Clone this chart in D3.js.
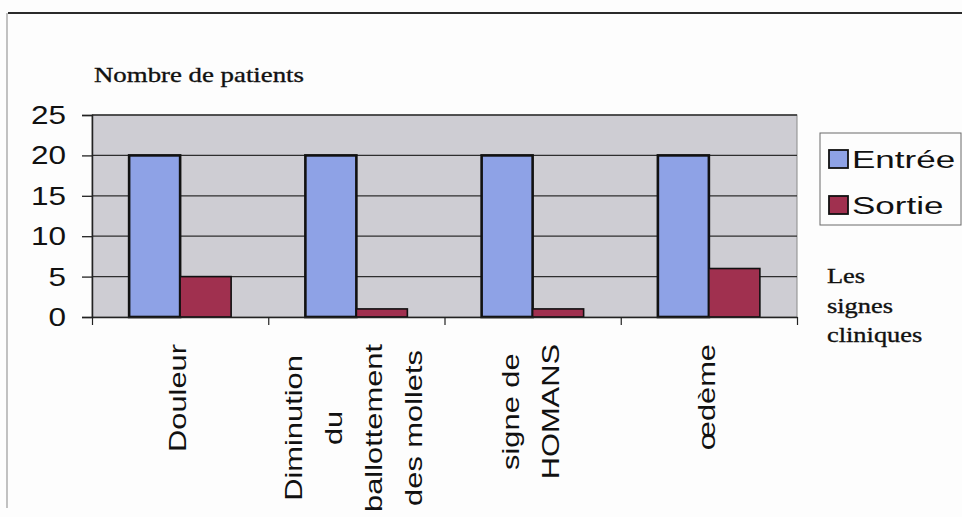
<!DOCTYPE html>
<html>
<head>
<meta charset="utf-8">
<script src="https://cdn.jsdelivr.net/npm/d3@7"></script>
<style>
  html, body { margin: 0; padding: 0; background: #fdfdfd; }
  svg { display: block; }
</style>
</head>
<body>
<svg id="chart" width="962" height="517"></svg>
<script>
// ---- data ----
const categories = ["Douleur", "Diminution du ballottement des mollets", "signe de HOMANS", "œdème"];
const categoryLines = [["Douleur"], ["Diminution", "du", "ballottement", "des mollets"], ["signe de", "HOMANS"], ["œdème"]];
const seriesNames = ["Entrée", "Sortie"];
const entree = [20, 20, 20, 20];
const sortie = [5, 1, 1, 6];
const yTicks = [0, 5, 10, 15, 20, 25];
const yTitle = "Nombre de patients";
const xTitleLines = ["Les", "signes", "cliniques"];
const colors = ["#8ea2e6", "#a0304f"];

// ---- layout ----
const svg = d3.select("#chart");
const plot = { left: 92, right: 797, top: 115, bottom: 317 };

// outer frame lines
svg.append("line").attr("x1", 8).attr("x2", 962).attr("y1", 13).attr("y2", 13)
  .attr("stroke", "#2a2a2a").attr("stroke-width", 2);
svg.append("line").attr("x1", 7).attr("x2", 7).attr("y1", 13).attr("y2", 508)
  .attr("stroke", "#9a9a9a").attr("stroke-width", 1.2);

const x0 = d3.scaleBand().domain(categories).range([plot.left, plot.right]).padding(0);
const x1 = d3.scaleBand().domain(seriesNames).range([0, x0.bandwidth()]).paddingInner(0).paddingOuter(0.728);
const y = d3.scaleLinear().domain([0, 25]).range([plot.bottom, plot.top]);

// plot background
svg.append("rect").attr("x", plot.left).attr("y", plot.top)
  .attr("width", plot.right - plot.left).attr("height", plot.bottom - plot.top)
  .attr("fill", "#cecdd3").attr("stroke", "#8a8a8a").attr("stroke-width", 1);

// gridlines
svg.append("g").selectAll("line").data(yTicks.filter(d => d > 0)).join("line")
  .attr("x1", plot.left).attr("x2", plot.right)
  .attr("y1", d => y(d)).attr("y2", d => y(d))
  .attr("stroke", "#2e2e2e").attr("stroke-width", 1.3);

// bars
const data = categories.map((c, i) => ({ cat: c, vals: [entree[i], sortie[i]] }));
const groups = svg.append("g").selectAll("g").data(data).join("g")
  .attr("transform", d => `translate(${x0(d.cat)},0)`);
groups.selectAll("rect").data(d => d.vals.map((v, j) => ({ s: seriesNames[j], v, j }))).join("rect")
  .attr("x", d => x1(d.s))
  .attr("y", d => y(d.v))
  .attr("width", x1.bandwidth())
  .attr("height", d => y(0) - y(d.v))
  .attr("fill", d => colors[d.j])
  .attr("stroke", "#111")
  .attr("stroke-width", d => d.j === 0 ? 2.6 : 1.6);

// y axis
const yAxis = d3.axisLeft(y).tickValues(yTicks).tickSize(10).tickFormat("");
const gy = svg.append("g").attr("transform", `translate(${plot.left},0)`).call(yAxis);
gy.select(".domain").attr("stroke", "#222").attr("stroke-width", 1.5);
gy.selectAll(".tick line").attr("stroke", "#222").attr("stroke-width", 1.3);

svg.append("g").selectAll("text").data(yTicks).join("text")
  .attr("transform", d => `translate(66,${y(d)}) scale(1.26,1)`)
  .attr("dy", "0.36em")
  .attr("text-anchor", "end")
  .attr("font-family", "Liberation Sans, Arial, sans-serif")
  .attr("font-size", 25)
  .attr("fill", "#111")
  .text(d => d);

// x axis (ticks at category boundaries)
const boundaries = categories.map(c => x0(c)).concat([plot.right]);
const xb = d3.scaleLinear().domain([plot.left, plot.right]).range([plot.left, plot.right]);
const xAxis = d3.axisBottom(xb).tickValues(boundaries).tickSize(8).tickSizeOuter(0).tickFormat("");
const gx = svg.append("g").attr("transform", `translate(0,${plot.bottom})`).call(xAxis);
gx.select(".domain").attr("stroke", "#222").attr("stroke-width", 1.5);
gx.selectAll(".tick line").attr("stroke", "#222").attr("stroke-width", 1.2);

// category labels (rotated, stretched along text direction)
const stretch = 1.34, lineGap = 40, labelTop = 344;
categoryLines.forEach((lines, i) => {
  const cx = x0(categories[i]) + x0.bandwidth() / 2 - 2;
  const g = svg.append("g");
  const texts = lines.map(t => g.append("text")
    .attr("font-family", "Liberation Sans, Arial, sans-serif")
    .attr("font-size", 23)
    .attr("fill", "#111")
    .attr("text-anchor", "middle")
    .text(t));
  const lens = texts.map(t => t.node().getComputedTextLength() * stretch);
  const block = d3.max(lens);
  const cy = labelTop + block / 2;
  texts.forEach((t, k) => {
    const lx = cx + (k - (lines.length - 1) / 2) * lineGap + 8;
    t.attr("transform", `translate(${lx},${cy}) rotate(-90) scale(${stretch},1)`);
  });
});

// y title
svg.append("text")
  .attr("transform", "translate(94,82) scale(1.22,1)")
  .attr("font-family", "Liberation Serif, Times New Roman, serif")
  .attr("font-size", 22)
  .attr("fill", "#111")
  .attr("stroke", "#111").attr("stroke-width", 0.35)
  .text(yTitle);

// x title
svg.append("g").selectAll("text").data(xTitleLines).join("text")
  .attr("transform", (d, i) => `translate(827,${[283, 313, 342][i]}) scale(1.2,1)`)
  .attr("font-family", "Liberation Serif, Times New Roman, serif")
  .attr("font-size", 22)
  .attr("fill", "#111")
  .attr("stroke", "#111").attr("stroke-width", 0.35)
  .text(d => d);

// legend
const legend = svg.append("g");
legend.append("rect").attr("x", 820).attr("y", 133).attr("width", 141).attr("height", 92)
  .attr("fill", "#fdfdfd").attr("stroke", "#6a6a6a").attr("stroke-width", 1);
const legRows = legend.selectAll("g.row").data(seriesNames).join("g").attr("class", "row")
  .attr("transform", (d, i) => `translate(0,${168 + i * 46})`);
legRows.append("rect").attr("x", 829).attr("y", -18).attr("width", 19).attr("height", 18)
  .attr("fill", (d, i) => colors[i]).attr("stroke", "#111").attr("stroke-width", 1.8);
legRows.append("text")
  .attr("transform", "translate(852,0) scale(1.46,1)")
  .attr("font-family", "Liberation Sans, Arial, sans-serif")
  .attr("font-size", 24)
  .attr("fill", "#111")
  .text(d => d);
</script>
</body>
</html>
